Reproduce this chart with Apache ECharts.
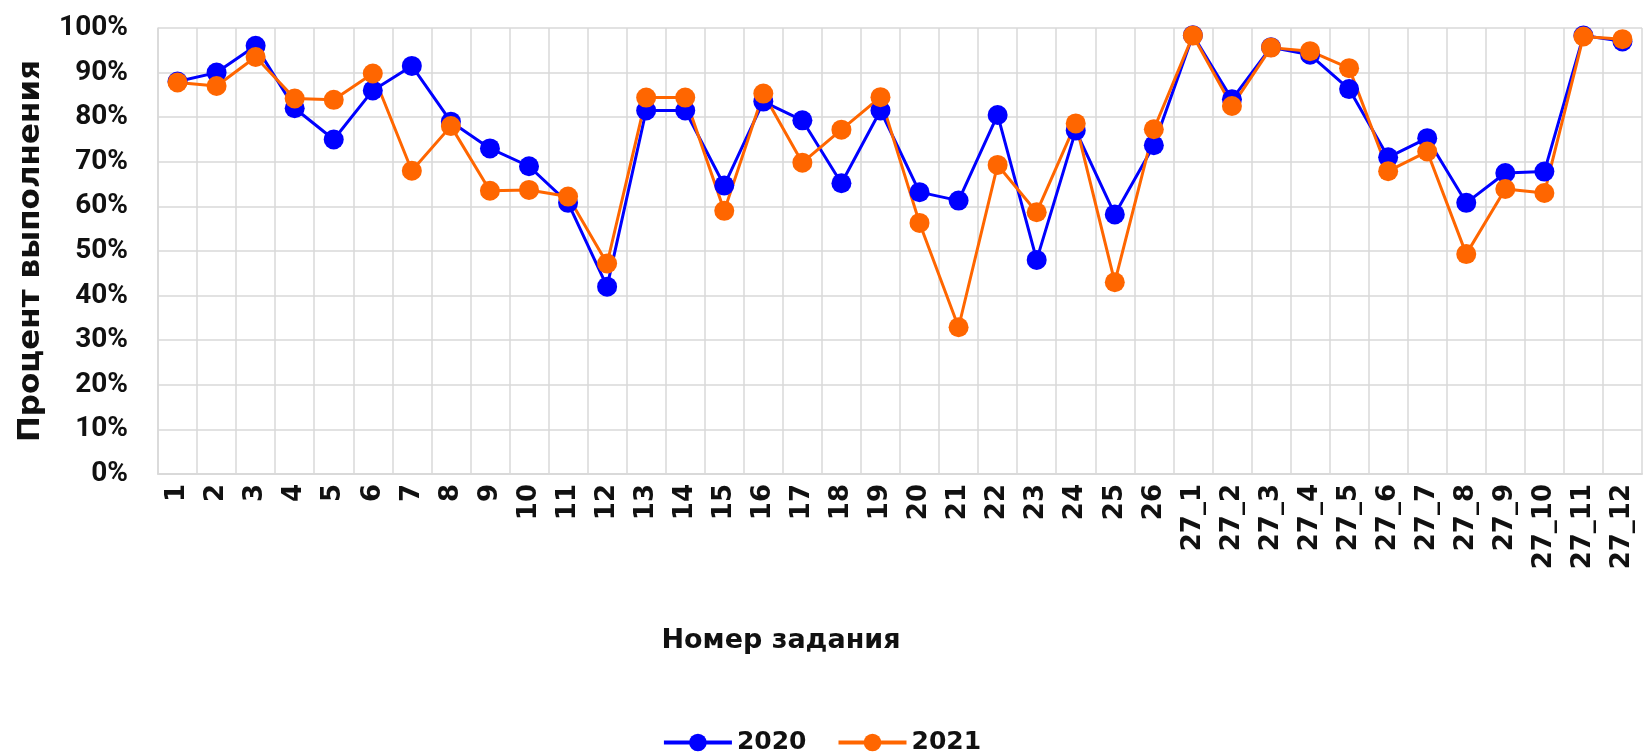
<!DOCTYPE html>
<html>
<head>
<meta charset="utf-8">
<title>Процент выполнения</title>
<script src="https://cdn.jsdelivr.net/npm/echarts@6/dist/echarts.min.js"></script>
<style>
    html, body { margin: 0; padding: 0; background: #fff; }
    #chart { width: 1643px; height: 753px; }
</style>
</head>
<body>
<div id="chart"></div>
<script>
// номера заданий
const tasks = ['1', '2', '3', '4', '5', '6', '7', '8', '9', '10', '11', '12', '13', '14', '15', '16', '17', '18', '19',
    '20', '21', '22', '23', '24', '25', '26', '27_1', '27_2', '27_3', '27_4', '27_5', '27_6', '27_7', '27_8', '27_9',
    '27_10', '27_11', '27_12']

// процент выполнения
const values2020 = [88, 90, 96, 82, 75, 86, 91.5, 79, 73, 69, 60.8, 42, 81.5, 81.5, 64.7, 83.5, 79.3, 65.2, 81.5,
    63.2, 61.3, 80.5, 48, 77, 58.2, 73.7, 98.4, 84, 95.7, 94, 86.3, 71, 75.3, 60.8, 67.5, 67.8, 98.3, 97]
const values2021 = [87.8, 87, 93.5, 84.2, 83.9, 89.8, 68, 78, 63.5, 63.7, 62.2, 47.2, 84.4, 84.4, 59, 85.3, 69.8,
    77.2, 84.5, 56.3, 32.9, 69.3, 58.7, 78.6, 43, 77.3, 98.3, 82.5, 95.6, 94.8, 91, 67.9, 72.3, 49.3, 63.9, 63,
    98.1, 97.5]

const yTicks = [0, 10, 20, 30, 40, 50, 60, 70, 80, 90, 100]

const blue = '#0000FF'
const orange = '#FF6600'
const gridColor = '#d9d9d9'
const textColor = '#111'

const chart = echarts.init(document.getElementById('chart'))

const option = {
    animation: false,
    grid: {
        left: 158,
        right: 1,
        top: 28,
        bottom: 279,
        outerBoundsMode: 'none'
    },
    title: {
        text: 'Номер задания',
        left: 776,
        top: 622,
        textAlign: 'center',
        textStyle: {
            fontFamily: 'DejaVu Sans',
            fontWeight: 'bold',
            fontSize: 27,
            color: textColor
        }
    },
    legend: {
        top: 725,
        left: 'center',
        itemWidth: 68,
        itemHeight: 22,
        itemGap: 30,
        lineStyle: { width: 4 },
        textStyle: {
            fontFamily: 'DejaVu Sans',
            fontWeight: 'bold',
            fontSize: 25,
            color: textColor
        },
        data: ['2020', '2021']
    },
    xAxis: {
        type: 'category',
        data: tasks,
        boundaryGap: true,
        axisTick: { show: false },
        axisLine: { lineStyle: { color: gridColor, width: 2 } },
        axisLabel: {
            rotate: 90,
            interval: 0,
            margin: 10,
            fontFamily: 'DejaVu Sans',
            fontWeight: 'bold',
            fontSize: 26,
            color: textColor
        },
        splitLine: {
            show: true,
            interval: 0,
            lineStyle: { color: gridColor, width: 1.5 }
        }
    },
    yAxis: {
        type: 'value',
        min: yTicks[0],
        max: yTicks[yTicks.length - 1],
        interval: 10,
        name: 'Процент выполнения',
        nameLocation: 'middle',
        nameGap: 112,
        nameTextStyle: {
            fontFamily: 'DejaVu Sans',
            fontWeight: 'bold',
            fontSize: 31,
            color: textColor
        },
        axisLine: { show: true, lineStyle: { color: gridColor, width: 1.5 } },
        axisTick: { show: false },
        axisLabel: {
            margin: 30,
            fontFamily: 'Roboto',
            fontWeight: 'bold',
            fontSize: 28,
            color: textColor,
            formatter: '{value}%'
        },
        splitLine: {
            lineStyle: { color: gridColor, width: 1.5 }
        }
    },
    series: [
        {
            name: '2020',
            type: 'line',
            data: values2020,
            symbol: 'circle',
            symbolSize: 20,
            itemStyle: { color: blue },
            lineStyle: { color: blue, width: 3 }
        },
        {
            name: '2021',
            type: 'line',
            data: values2021,
            symbol: 'circle',
            symbolSize: 20,
            itemStyle: { color: orange },
            lineStyle: { color: orange, width: 3 }
        }
    ]
}

chart.setOption(option)
</script>
</body>
</html>
